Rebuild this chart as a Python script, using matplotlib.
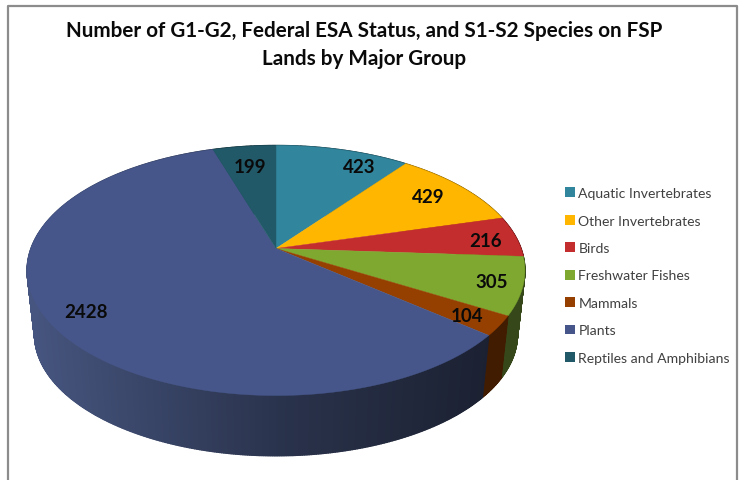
import numpy as np
import matplotlib
matplotlib.use("Agg")
import matplotlib.pyplot as plt
from matplotlib.patches import Patch

plt.rcParams["font.family"] = ["Lato", "DejaVu Sans"]

groups = ["Aquatic Invertebrates", "Other Invertebrates", "Birds", "Freshwater Fishes",
          "Mammals", "Plants", "Reptiles and Amphibians"]
counts = [423, 429, 216, 305, 104, 2428, 199]
colors = ["#31859c", "#ffb600", "#c32d2e", "#7ea82f", "#954000", "#46568a", "#215968"]
side_colors = ["#1b4a57", "#8f6600", "#6d1a1a", "#36481a", "#421c00", "#46557f", "#12323b"]
label_xy = [(359, 168), (428, 198), (486, 242), (492, 283), (467, 317), (86, 313), (250, 168)]

title = "Number of G1-G2, Federal ESA Status, and S1-S2 Species on FSP\nLands by Major Group"

# perspective of the pie top, in pixels
cx, cy = 276, 248
persp = 0.176
ky = -77.5
kx = 245
y_shift = 1.5
ell_cy = 271.5
drop = 64
shrink = 0.97


def top_xy(theta, r=1.0):
    # theta clockwise from 12 o'clock
    u = r * np.sin(theta)
    v = r * np.cos(theta)
    d = 1 + persp * v
    return cx + kx * u / d, (ky * v + cy) / d + y_shift


def bottom_xy(theta):
    x, y = top_xy(theta)
    return cx + shrink * (x - cx), ell_cy + drop + shrink * (y - ell_cy)


fig = plt.figure(figsize=(7.39, 4.81), dpi=100)
ax = fig.add_axes([0, 0, 1, 1])
ax.set_xlim(0, 739)
ax.set_ylim(481, 0)
ax.axis("off")

# chart frame
ax.plot([8, 8, 737, 737], [481, 6.5, 6.5, 481], color="#8c8c8c", lw=1.6)

edges = np.cumsum([0] + counts) / sum(counts) * 2 * np.pi

# side wall first, the top covers whatever faces away
for i in range(len(counts)):
    angles = np.linspace(edges[i], edges[i + 1], int(counts[i] / 4) + 2)
    for a0, a1 in zip(angles[:-1], angles[1:]):
        x0, y0 = top_xy(a0)
        x1, y1 = top_xy(a1)
        x2, y2 = bottom_xy(a1)
        x3, y3 = bottom_xy(a0)
        # darker towards the right
        shade = 1.0
        if groups[i] == "Plants":
            shade = np.interp((x0 + x1) / 2, [30, 280, 490], [1.0, 0.6, 0.39])
        rgb = np.array(matplotlib.colors.to_rgb(side_colors[i])) * shade
        ax.fill([x0, x1, x2, x3], [y0, y1, y2, y3], color=rgb, lw=1.0)

# top face
for i in range(len(counts)):
    angles = np.linspace(edges[i], edges[i + 1], 200)
    xs, ys = top_xy(angles)
    ax.fill(np.r_[cx, xs], np.r_[cy + y_shift, ys], color=colors[i], lw=0.3)

for n, (x, y) in zip(counts, label_xy):
    ax.text(x, y, str(n), ha="center", va="center", fontsize=13.5, fontweight="bold", color="#0a0a0a")

ax.text(364.5, 45, title, ha="center", va="center", fontsize=14.9, fontweight="bold",
        color="#0a0a0a", linespacing=1.5)

handles = [Patch(facecolor=c, edgecolor="none") for c in colors]
ax.legend(handles, groups, loc="center left", bbox_to_anchor=(565 / 739, 1 - 276.5 / 481),
          frameon=False, fontsize=10.1, handlelength=0.7, handleheight=0.7, handletextpad=0.25,
          labelspacing=1.1, labelcolor="#404040", borderpad=0, borderaxespad=0)

fig.savefig("out.png", dpi=100)
